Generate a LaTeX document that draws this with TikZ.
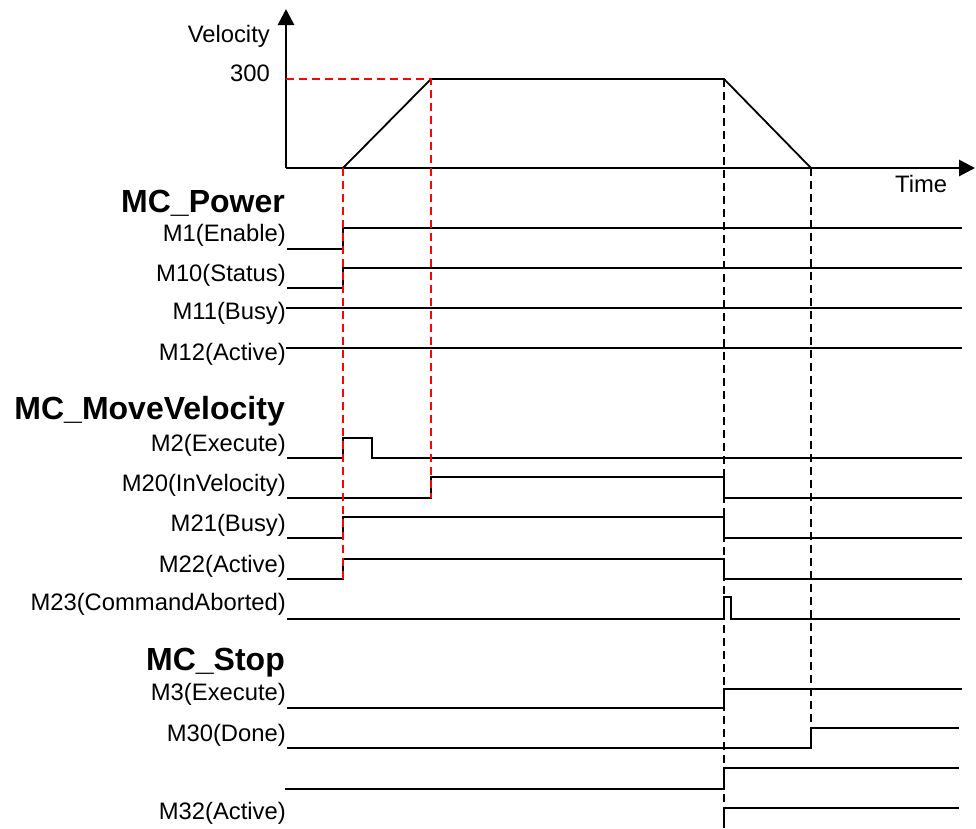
\documentclass[tikz,border=0pt]{standalone}
\usepackage{fontspec}
\setmainfont{Liberation Sans}
\usetikzlibrary{arrows.meta}

\begin{document}
\begin{tikzpicture}[x=1pt,y=-1pt,>={Triangle[length=16pt,width=16pt]},
  axis/.style={->,line width=2.8pt},
  prof/.style={line width=1.8pt},
  sig/.style={line width=2pt,line join=miter},
  guide/.style={line width=2pt,dash pattern=on 8pt off 5pt},
  lbl/.style={anchor=base east,inner sep=0pt,font=\fontsize{23.8}{28}\selectfont},
  ttl/.style={anchor=base east,inner sep=0pt,font=\fontsize{32}{36}\selectfont\bfseries}]
\useasboundingbox (0,0) rectangle (976,828);
% velocity axes and profile
\coordinate (orig) at (286,168);
\draw[axis] (orig) -- (286,9);
\draw[axis] (orig) -- (975,168);
\node[lbl] (vel) at (270,42) {Velocity};
\node[lbl] (vmax) at (270,81) {300};
\node[lbl,anchor=base west] (time) at (895,192) {Time};
\draw[prof] (343,168) -- (431,79) -- (724,79) -- (811,168);
% MC_Power
\node[ttl] (power) at (285,212) {MC\_Power};
\node[lbl] (m1) at (286,241) {M1(Enable)};
\node[lbl] (m10) at (286,281) {M10(Status)};
\node[lbl] (m11) at (286,319) {M11(Busy)};
\node[lbl] (m12) at (286,360) {M12(Active)};
\draw[sig] (287,249) -- (343,249) -- (343,228) -- (962,228);
\draw[sig] (287,288) -- (343,288) -- (343,268) -- (962,268);
\draw[sig] (286,308) -- (962,308);
\draw[sig] (286,348) -- (962,348);
% MC_MoveVelocity
\node[ttl] (move) at (285,419) {MC\_MoveVelocity};
\node[lbl] (m2) at (286,451) {M2(Execute)};
\node[lbl] (m20) at (286,491) {M20(InVelocity)};
\node[lbl] (m21) at (286,531) {M21(Busy)};
\node[lbl] (m22) at (286,572) {M22(Active)};
\node[lbl] (m23) at (286,610) {M23(CommandAborted)};
\draw[sig] (287,458) -- (343,458) -- (343,438) -- (372,438) -- (372,458) -- (962,458);
\draw[sig] (287,498) -- (431,498) -- (431,477) -- (724,477) -- (724,498) -- (962,498);
\draw[sig] (287,538) -- (343,538) -- (343,517) -- (724,517) -- (724,538) -- (962,538);
\draw[sig] (287,579) -- (343,579) -- (343,559) -- (724,559) -- (724,579) -- (962,579);
\draw[sig] (287,619) -- (724,619) -- (724,597) -- (731,597) -- (731,619) -- (960,619);
% MC_Stop
\node[ttl] (stop) at (285,670) {MC\_Stop};
\node[lbl] (m3) at (286,700) {M3(Execute)};
\node[lbl] (m30) at (286,741) {M30(Done)};
\node[lbl] (m32) at (286,819) {M32(Active)};
\draw[sig] (287,708) -- (724,708) -- (724,689) -- (962,689);
\draw[sig] (287,748) -- (811,748) -- (811,728) -- (959,728);
\draw[sig] (285,789) -- (724,789) -- (724,768) -- (959,768);
\draw[sig] (724,828) -- (724,808) -- (959,808);
% guide lines
\draw[guide,red] (286,79) -- (431,79) -- (431,498);
\draw[guide,red] (343,168) -- (343,580);
\draw[guide] (724,79) -- (724,828);
\draw[guide] (811,168) -- (811,728);
\end{tikzpicture}
\end{document}
